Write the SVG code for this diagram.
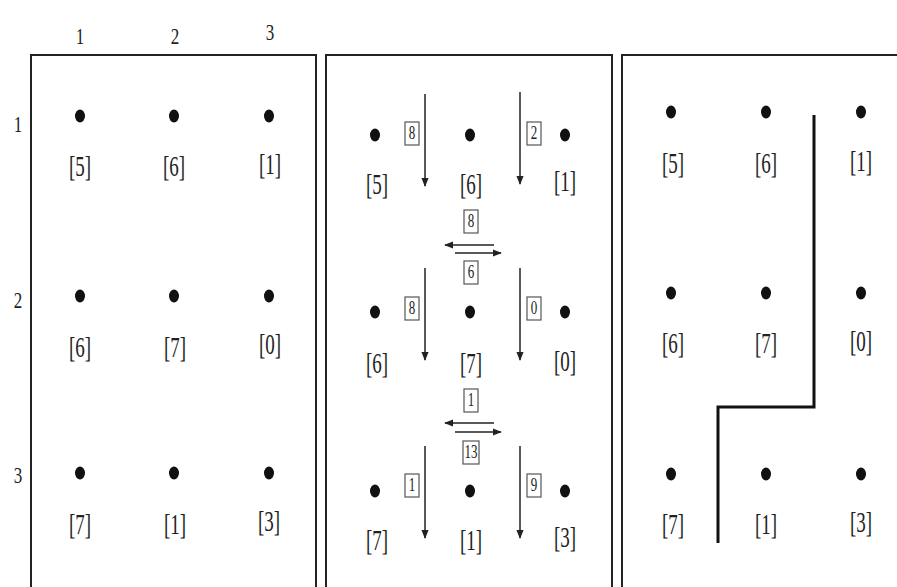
<svg xmlns="http://www.w3.org/2000/svg" width="897" height="587" viewBox="0 0 897 587">
<defs>
<style>
.frame{fill:none;stroke:#222;stroke-width:2}
.dot{fill:#111}
.lbl{font-family:"Liberation Serif",serif;font-size:19px;fill:#222;text-anchor:middle}
.ax{font-family:"Liberation Serif",serif;font-size:17px;fill:#222;text-anchor:middle}
.bx{fill:#fff;stroke:#555;stroke-width:1.2}
.bt{font-family:"Liberation Serif",serif;font-size:13px;fill:#222;text-anchor:middle}
.arr{stroke:#222;stroke-width:1.5;fill:none}
.wall{stroke:#111;stroke-width:3;fill:none}
</style>
<marker id="ah" viewBox="0 0 10 10" refX="9" refY="5" markerWidth="6" markerHeight="7" orient="auto"><path d="M0,1 L10,5 L0,9 z" fill="#222"/></marker>
</defs>
<rect width="897" height="587" fill="#fff"/>
<g id="axes">
<text class="ax" transform="translate(80,44) scale(1,1.4)">1</text>
<text class="ax" transform="translate(175,44) scale(1,1.4)">2</text>
<text class="ax" transform="translate(270,40) scale(1,1.4)">3</text>
<text class="ax" transform="translate(18,132) scale(1,1.4)">1</text>
<text class="ax" transform="translate(18,308) scale(1,1.4)">2</text>
<text class="ax" transform="translate(18,483) scale(1,1.4)">3</text>
</g>
<g id="frames">
<path class="frame" d="M31,587 V55 H316 V587"/>
<path class="frame" d="M326,587 V55 H612 V587"/>
<path class="frame" d="M622,587 V55 H897"/>
</g>
<g id="panel1">
<g id="p1n11"><ellipse class="dot" cx="80" cy="116" rx="5" ry="6.5"/><text class="lbl" transform="translate(80,176) scale(1,1.5)">[5]</text></g>
<g id="p1n12"><ellipse class="dot" cx="174" cy="116" rx="5" ry="6.5"/><text class="lbl" transform="translate(174,176) scale(1,1.5)">[6]</text></g>
<g id="p1n13"><ellipse class="dot" cx="269" cy="116" rx="5" ry="6.5"/><text class="lbl" transform="translate(270,174) scale(1,1.5)">[1]</text></g>
<g id="p1n21"><ellipse class="dot" cx="80" cy="296" rx="5" ry="6.5"/><text class="lbl" transform="translate(80,357) scale(1,1.5)">[6]</text></g>
<g id="p1n22"><ellipse class="dot" cx="174" cy="296" rx="5" ry="6.5"/><text class="lbl" transform="translate(175,357) scale(1,1.5)">[7]</text></g>
<g id="p1n23"><ellipse class="dot" cx="269" cy="296" rx="5" ry="6.5"/><text class="lbl" transform="translate(270,354) scale(1,1.5)">[0]</text></g>
<g id="p1n31"><ellipse class="dot" cx="80" cy="473" rx="5" ry="6.5"/><text class="lbl" transform="translate(80,534) scale(1,1.5)">[7]</text></g>
<g id="p1n32"><ellipse class="dot" cx="174" cy="473" rx="5" ry="6.5"/><text class="lbl" transform="translate(175,534) scale(1,1.5)">[1]</text></g>
<g id="p1n33"><ellipse class="dot" cx="269" cy="473" rx="5" ry="6.5"/><text class="lbl" transform="translate(269,531) scale(1,1.5)">[3]</text></g>
</g>
<g id="panel2">
<g id="p2n11"><ellipse class="dot" cx="375" cy="135" rx="5" ry="6.5"/><text class="lbl" transform="translate(377,194) scale(1,1.5)">[5]</text></g>
<g id="p2n12"><ellipse class="dot" cx="470" cy="135" rx="5" ry="6.5"/><text class="lbl" transform="translate(471,194) scale(1,1.5)">[6]</text></g>
<g id="p2n13"><ellipse class="dot" cx="565" cy="135" rx="5" ry="6.5"/><text class="lbl" transform="translate(565,191) scale(1,1.5)">[1]</text></g>
<g id="p2n21"><ellipse class="dot" cx="375" cy="312" rx="5" ry="6.5"/><text class="lbl" transform="translate(377,373) scale(1,1.5)">[6]</text></g>
<g id="p2n22"><ellipse class="dot" cx="470" cy="312" rx="5" ry="6.5"/><text class="lbl" transform="translate(471,373) scale(1,1.5)">[7]</text></g>
<g id="p2n23"><ellipse class="dot" cx="565" cy="312" rx="5" ry="6.5"/><text class="lbl" transform="translate(565,371) scale(1,1.5)">[0]</text></g>
<g id="p2n31"><ellipse class="dot" cx="375" cy="491" rx="5" ry="6.5"/><text class="lbl" transform="translate(377,550) scale(1,1.5)">[7]</text></g>
<g id="p2n32"><ellipse class="dot" cx="470" cy="491" rx="5" ry="6.5"/><text class="lbl" transform="translate(471,550) scale(1,1.5)">[1]</text></g>
<g id="p2n33"><ellipse class="dot" cx="565" cy="491" rx="5" ry="6.5"/><text class="lbl" transform="translate(565,547) scale(1,1.5)">[3]</text></g>
</g>
<g id="connectors">
<line class="arr" x1="425" y1="94" x2="425" y2="186" marker-end="url(#ah)"/>
<line class="arr" x1="520" y1="92" x2="520" y2="184" marker-end="url(#ah)"/>
<line class="arr" x1="425" y1="268" x2="425" y2="360" marker-end="url(#ah)"/>
<line class="arr" x1="520" y1="268" x2="520" y2="360" marker-end="url(#ah)"/>
<line class="arr" x1="425" y1="446" x2="425" y2="538" marker-end="url(#ah)"/>
<line class="arr" x1="520" y1="446" x2="520" y2="538" marker-end="url(#ah)"/>
<line class="arr" x1="494" y1="245" x2="445" y2="245" marker-end="url(#ah)"/>
<line class="arr" x1="455" y1="253" x2="501" y2="253" marker-end="url(#ah)"/>
<line class="arr" x1="494" y1="423" x2="445" y2="423" marker-end="url(#ah)"/>
<line class="arr" x1="455" y1="432" x2="501" y2="432" marker-end="url(#ah)"/>
</g>
<g id="weights">
<g><rect class="bx" x="405" y="122" width="14" height="23"/><text class="bt" transform="translate(412,139) scale(1,1.4)">8</text></g>
<g><rect class="bx" x="527" y="122" width="14" height="23"/><text class="bt" transform="translate(534,139) scale(1,1.4)">2</text></g>
<g><rect class="bx" x="405" y="297" width="14" height="23"/><text class="bt" transform="translate(412,314) scale(1,1.4)">8</text></g>
<g><rect class="bx" x="527" y="297" width="14" height="23"/><text class="bt" transform="translate(534,314) scale(1,1.4)">0</text></g>
<g><rect class="bx" x="405" y="474" width="14" height="23"/><text class="bt" transform="translate(412,491) scale(1,1.4)">1</text></g>
<g><rect class="bx" x="527" y="474" width="14" height="23"/><text class="bt" transform="translate(534,491) scale(1,1.4)">9</text></g>
<g><rect class="bx" x="464" y="210" width="14" height="23"/><text class="bt" transform="translate(471,227) scale(1,1.4)">8</text></g>
<g><rect class="bx" x="464" y="261" width="14" height="23"/><text class="bt" transform="translate(471,278) scale(1,1.4)">6</text></g>
<g><rect class="bx" x="464" y="389" width="14" height="23"/><text class="bt" transform="translate(471,406) scale(1,1.4)">1</text></g>
<g><rect class="bx" x="463" y="441" width="16" height="23"/><text class="bt" transform="translate(471,458) scale(1,1.4)">13</text></g>
</g>
<g id="panel3">
<g id="p3n11"><ellipse class="dot" cx="671" cy="112" rx="5" ry="6.5"/><text class="lbl" transform="translate(673,173) scale(1,1.5)">[5]</text></g>
<g id="p3n12"><ellipse class="dot" cx="766" cy="112" rx="5" ry="6.5"/><text class="lbl" transform="translate(766,173) scale(1,1.5)">[6]</text></g>
<g id="p3n13"><ellipse class="dot" cx="861" cy="112" rx="5" ry="6.5"/><text class="lbl" transform="translate(861,171) scale(1,1.5)">[1]</text></g>
<g id="p3n21"><ellipse class="dot" cx="671" cy="293" rx="5" ry="6.5"/><text class="lbl" transform="translate(673,353) scale(1,1.5)">[6]</text></g>
<g id="p3n22"><ellipse class="dot" cx="766" cy="293" rx="5" ry="6.5"/><text class="lbl" transform="translate(766,353) scale(1,1.5)">[7]</text></g>
<g id="p3n23"><ellipse class="dot" cx="861" cy="293" rx="5" ry="6.5"/><text class="lbl" transform="translate(861,351) scale(1,1.5)">[0]</text></g>
<g id="p3n31"><ellipse class="dot" cx="671" cy="474" rx="5" ry="6.5"/><text class="lbl" transform="translate(673,534) scale(1,1.5)">[7]</text></g>
<g id="p3n32"><ellipse class="dot" cx="766" cy="474" rx="5" ry="6.5"/><text class="lbl" transform="translate(766,534) scale(1,1.5)">[1]</text></g>
<g id="p3n33"><ellipse class="dot" cx="861" cy="474" rx="5" ry="6.5"/><text class="lbl" transform="translate(861,532) scale(1,1.5)">[3]</text></g>
<path class="wall" d="M814,115 V407 H718 V543"/>
</g>
</svg>
